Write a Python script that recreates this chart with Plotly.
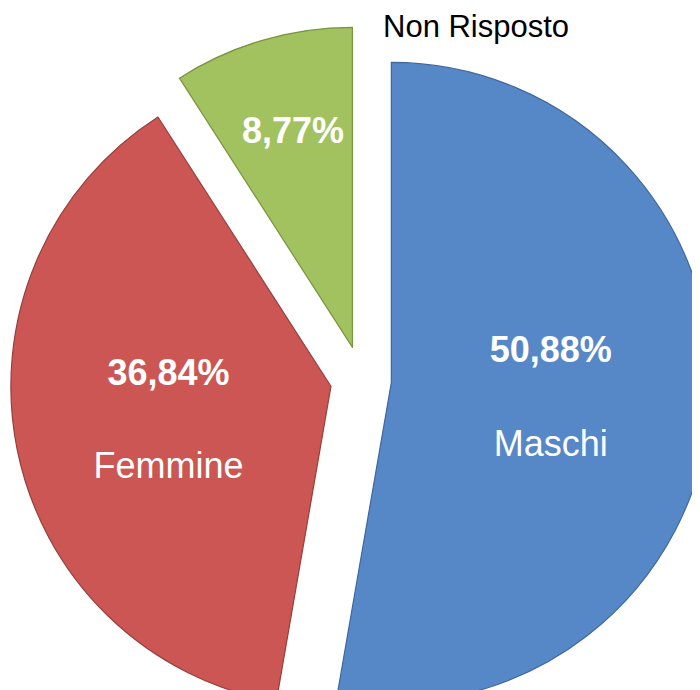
import plotly.graph_objects as go

labels = ["Maschi", "Femmine", "Non Risposto"]
values = [50.88, 36.84, 8.77]
slice_colors = ["#5688C8", "#CC5653", "#A1C25F"]
edge_colors = ["#3F679C", "#96403D", "#78953F"]
pulls = [0.092, 0.099, 0.106]

texts = [
    "<b>%{value:.2f}%</b><br><br>%{label}",
    "<b>%{value:.2f}%</b><br><br>%{label}",
    "",
]

FONT = "Liberation Sans, Arial, sans-serif"

fig = go.Figure(
    go.Pie(
        labels=labels,
        values=values,
        sort=False,
        direction="clockwise",
        rotation=0,
        pull=pulls,
        marker=dict(colors=slice_colors, line=dict(color=edge_colors, width=1.2)),
        texttemplate=texts,
        textposition=["inside", "inside", "none"],
        insidetextorientation="horizontal",
        textfont=dict(family=FONT, size=36, color="white"),
        hoverinfo="label+value",
        showlegend=False,
        domain=dict(x=[0, 1], y=[0, 1]),
    )
)

# label of the small slice, placed like the original (value inside, name outside)
green_pct = f"{values[2]:.2f}%".replace(".", ",")
fig.add_annotation(
    text=f"<b>{green_pct}</b>",
    xref="paper", yref="paper",
    x=0.4025, y=0.8347,
    xanchor="center", yanchor="middle",
    showarrow=False,
    font=dict(family=FONT, size=36, color="white"),
)
fig.add_annotation(
    text=labels[2],
    xref="paper", yref="paper",
    x=0.661, y=0.975,
    xanchor="center", yanchor="middle",
    showarrow=False,
    font=dict(family=FONT, size=31, color="black"),
)

fig.update_layout(
    width=708,
    height=744,
    margin=dict(l=0, r=0, t=0, b=0),
    paper_bgcolor="white",
    plot_bgcolor="white",
    separators=",.",
    uniformtext=dict(minsize=36, mode="show"),
)

fig.write_html("out.html")
